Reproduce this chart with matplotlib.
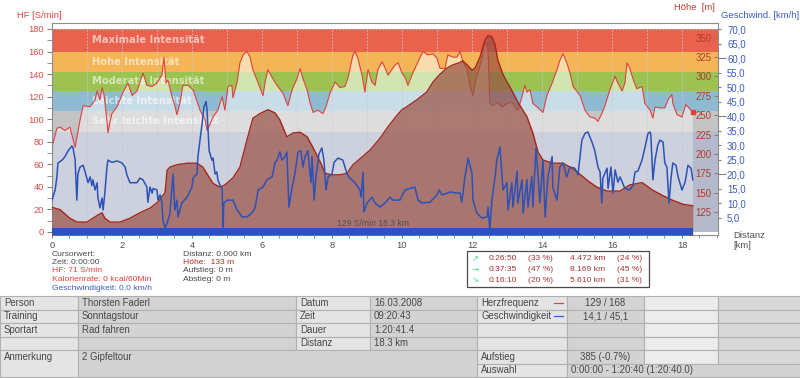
import numpy as np
import matplotlib
matplotlib.use('Agg')
import matplotlib.pyplot as plt
from matplotlib.patches import Rectangle, Polygon
from matplotlib.transforms import blended_transform_factory

plt.rcParams['font.family'] = ['Liberation Sans', 'DejaVu Sans']

# ---------------- data ----------------
hf_km = [0.0, 0.14, 0.23, 0.37, 0.51, 0.57, 0.66, 0.80, 0.89, 1.09,
         1.23, 1.29, 1.37, 1.43, 1.49, 1.57, 1.60, 1.71, 1.86, 2.03,
         2.17, 2.29, 2.43, 2.60, 2.71, 2.86, 3.00, 3.14, 3.20, 3.26,
         3.31, 3.43, 3.51, 3.57, 3.66, 3.74, 3.89, 4.03, 4.23, 4.37,
         4.43, 4.51, 4.60, 4.74, 4.86, 4.94, 5.03, 5.14, 5.17, 5.29,
         5.37, 5.46, 5.57, 5.66, 5.74, 5.89, 6.03, 6.09, 6.17, 6.29,
         6.43, 6.60, 6.74, 6.86, 7.00, 7.09, 7.17, 7.29, 7.37, 7.46,
         7.60, 7.74, 7.83, 7.94, 8.09, 8.23, 8.37, 8.46, 8.60, 8.66,
         8.74, 8.86, 8.94, 9.03, 9.14, 9.23, 9.31, 9.43, 9.51, 9.60,
         9.71, 9.80, 9.89, 10.00, 10.09, 10.17, 10.31, 10.46, 10.60, 10.74,
         10.89, 11.00, 11.09, 11.23, 11.31, 11.46, 11.57, 11.66, 11.74, 11.86,
         11.94, 12.03, 12.11, 12.20, 12.29, 12.34, 12.40, 12.46, 12.51, 12.60,
         12.74, 12.86, 13.00, 13.14, 13.23, 13.31, 13.43, 13.51, 13.57, 13.66,
         13.74, 13.89, 14.03, 14.14, 14.29, 14.43, 14.51, 14.60, 14.71, 14.80,
         14.89, 15.09, 15.23, 15.37, 15.51, 15.60, 15.71, 15.80, 15.94, 16.09,
         16.17, 16.29, 16.37, 16.43, 16.51, 16.60, 16.71, 16.86, 16.94, 17.09,
         17.17, 17.23, 17.37, 17.51, 17.60, 17.71, 17.74, 17.86, 18.00, 18.11,
         18.20, 18.31]
hf_bpm = [75, 92, 93, 90, 93, 86, 75, 99, 112, 111,
          117, 125, 117, 128, 121, 99, 88, 105, 111, 124,
          132, 121, 125, 141, 130, 129, 132, 139, 155, 132,
          135, 120, 112, 104, 115, 130, 130, 126, 108, 100,
          90, 95, 102, 108, 120, 108, 129, 130, 119, 133,
          150, 157, 160, 155, 144, 132, 121, 133, 144, 137,
          130, 123, 112, 126, 136, 145, 136, 126, 115, 106,
          108, 105, 111, 123, 133, 128, 129, 137, 157, 160,
          154, 139, 124, 144, 133, 130, 144, 151, 146, 139,
          144, 148, 150, 141, 137, 130, 141, 151, 160, 157,
          158, 154, 145, 145, 157, 155, 155, 160, 151, 144,
          130, 121, 135, 144, 155, 166, 168, 161, 114, 112,
          115, 111, 114, 115, 111, 108, 120, 130, 124, 126,
          114, 110, 106, 121, 132, 144, 152, 158, 150, 141,
          129, 121, 108, 102, 101, 98, 105, 112, 126, 138,
          132, 125, 132, 150, 145, 136, 127, 129, 114, 108,
          101, 111, 110, 110, 117, 122, 114, 104, 102, 113,
          110, 106]

alt_km = [0.0, 0.23, 0.51, 0.71, 1.00, 1.17, 1.31, 1.43, 1.51, 1.66,
          1.94, 2.23, 2.51, 2.80, 3.03, 3.23, 3.29, 3.37, 3.57, 3.86,
          4.14, 4.31, 4.46, 4.60, 4.80, 4.94, 5.17, 5.37, 5.57, 5.74,
          5.94, 6.17, 6.37, 6.51, 6.71, 6.89, 7.09, 7.29, 7.46, 7.66,
          7.80, 8.00, 8.23, 8.43, 8.60, 8.86, 9.09, 9.37, 9.60, 9.86,
          10.00, 10.14, 10.43, 10.71, 10.89, 11.09, 11.29, 11.46, 11.60, 11.74,
          11.86, 12.00, 12.09, 12.23, 12.37, 12.46, 12.57, 12.66, 12.74, 12.89,
          13.09, 13.31, 13.57, 13.74, 13.89, 14.03, 14.31, 14.60, 14.80, 15.00,
          15.29, 15.57, 15.86, 16.23, 16.51, 16.86, 17.17, 17.46, 17.74, 18.03,
          18.31]
alt_m = [131, 128, 117, 112, 112, 117, 121, 124, 117, 112,
         112, 117, 124, 130, 138, 150, 179, 183, 186, 188,
         188, 183, 172, 162, 157, 160, 169, 183, 218, 246,
         252, 257, 253, 244, 222, 227, 228, 222, 208, 190,
         175, 173, 173, 175, 186, 196, 205, 220, 235, 250,
         257, 261, 270, 280, 293, 303, 311, 315, 317, 320,
         315, 308, 311, 325, 347, 353, 351, 341, 321, 302,
         286, 267, 248, 227, 202, 192, 188, 188, 183, 177,
         166, 157, 152, 152, 160, 163, 153, 146, 140, 135,
         133]

spd_km = [0.0, 0.09, 0.14, 0.17, 0.29, 0.37, 0.46, 0.57, 0.60, 0.66,
          0.71, 0.74, 0.80, 0.89, 0.94, 1.03, 1.09, 1.14, 1.17, 1.23,
          1.29, 1.31, 1.37, 1.43, 1.46, 1.51, 1.57, 1.60, 1.71, 1.86,
          2.00, 2.09, 2.14, 2.23, 2.43, 2.51, 2.60, 2.71, 2.74, 2.80,
          2.86, 2.89, 3.00, 3.03, 3.09, 3.14, 3.17, 3.23, 3.29, 3.37,
          3.46, 3.51, 3.57, 3.60, 3.71, 3.86, 4.00, 4.03, 4.14, 4.17,
          4.29, 4.34, 4.40, 4.43, 4.49, 4.57, 4.60, 4.66, 4.71, 4.74,
          4.80, 4.86, 4.89, 4.91, 5.00, 5.17, 5.29, 5.43, 5.57, 5.71,
          5.80, 5.89, 6.03, 6.14, 6.29, 6.37, 6.43, 6.51, 6.57, 6.66,
          6.71, 6.77, 6.86, 6.94, 7.03, 7.11, 7.17, 7.23, 7.31, 7.40,
          7.43, 7.49, 7.54, 7.63, 7.71, 7.77, 7.83, 7.89, 8.00, 8.06,
          8.17, 8.31, 8.43, 8.51, 8.66, 8.80, 8.83, 8.89, 8.91, 9.00,
          9.14, 9.23, 9.37, 9.51, 9.66, 9.74, 9.94, 10.09, 10.23, 10.37,
          10.46, 10.57, 10.80, 11.00, 11.06, 11.14, 11.29, 11.37, 11.57, 11.66,
          11.71, 11.80, 11.89, 12.00, 12.03, 12.14, 12.29, 12.43, 12.46, 12.51,
          12.57, 12.66, 12.71, 12.80, 12.86, 12.89, 13.00, 13.03, 13.14, 13.17,
          13.29, 13.31, 13.43, 13.46, 13.57, 13.60, 13.71, 13.74, 13.83, 13.89,
          13.94, 14.03, 14.09, 14.17, 14.29, 14.31, 14.43, 14.51, 14.60, 14.71,
          14.80, 14.94, 15.03, 15.14, 15.23, 15.31, 15.43, 15.51, 15.60, 15.66,
          15.71, 15.74, 15.86, 15.89, 15.97, 16.03, 16.09, 16.17, 16.23, 16.37,
          16.51, 16.60, 16.66, 16.74, 16.86, 16.94, 17.03, 17.09, 17.11, 17.17,
          17.23, 17.31, 17.37, 17.46, 17.51, 17.57, 17.63, 17.69, 17.74, 17.83,
          17.89, 18.00, 18.09, 18.17, 18.26, 18.31]
spd_kmh = [11, 14.5, 19, 23.8, 24.8, 26, 28, 29.7, 29, 25,
           11, 20, 22.4, 23, 21, 17, 19, 16, 18, 14.5,
           17, 12, 8.3, 11.7, 7.6, 13.4, 22.4, 24.8, 24, 24.5,
           23.8, 22.4, 19.7, 17, 17, 18.6, 18, 15.5, 10.3, 15.5,
           13.4, 15, 14.5, 11, 12.8, 10, 4, 1.4, 3, 6.5,
           20, 7.6, 11, 5.2, 10, 12, 15.5, 18.6, 20, 26,
           37.6, 43, 45, 42, 28, 24.8, 25.5, 20, 20.7, 18,
           16.2, 15, 1.7, 10, 11, 11, 7.6, 5.2, 5.2, 6.5,
           8.3, 14.5, 15.5, 18, 19, 23.8, 24.8, 27.6, 24.8, 26,
           27.6, 8.6, 15.5, 20, 27.6, 28, 22.4, 26, 28, 17,
           26, 11, 19, 27, 29, 24.8, 14.5, 19, 20, 24,
           25.5, 24.8, 20, 18.6, 17, 14.5, 12, 20.7, 6.9, 10,
           12, 10, 8.6, 10, 12, 11, 11, 14.5, 15, 15.5,
           11, 10, 10.3, 12.8, 14.5, 12.8, 13.4, 13.8, 13.4, 13.4,
           10.3, 19, 25.5, 20.3, 11, 6.5, 4.8, 5.2, 8.6, 0.7,
           11, 19, 24.8, 29.3, 19, 14.5, 17, 7.6, 17, 8.6,
           21, 10, 18, 6.5, 18, 8.6, 19, 8.6, 29, 19,
           10, 24.8, 5.2, 19, 26, 15.5, 11, 22.4, 23.8, 19,
           22.4, 22, 19.7, 31.7, 34, 34.5, 31, 28, 22.4, 20.7,
           10, 18.6, 22, 15, 22.4, 13.4, 21.4, 17.2, 19, 15,
           14.5, 16, 20.7, 21, 24.8, 29, 34, 34.5, 33.5, 18,
           24.8, 30, 31.7, 31, 23.8, 22.4, 10, 19, 23.8, 23,
           19, 14.5, 17.2, 23, 22, 18]

zone_bounds = [0, 89, 107, 125, 142, 160, 180]
zone_names = ['', 'Sehr leichte Intensität', 'Leichte Intensität',
              'Moderate Intensität', 'Hohe Intensität', 'Maximale Intensität']
zone_dark = ['#b5b9cc', '#c4c4c4', '#8ebbd2', '#9cc352', '#f5b556', '#ea624e']
zone_light = ['#cdd0dd', '#dddddd', '#c9dde8', '#d2e4b0', '#f8dcab', '#f3aa9a']

hf_ticks = list(range(0, 181, 20))
alt_ticks = list(range(125, 351, 25))
spd_ticks = [5, 10, 15, 20, 25, 30, 35, 40, 45, 50, 55, 60, 65, 70]
x_ticks = list(range(0, 19, 2))

cursor_left = [("Cursorwert:", '#474747'), ("Zeit: 0:00:00", '#474747'),
               ("HF: 71 S/min", '#e8403c'), ("Kalorienrate: 0 kcal/60Min", '#e8403c'),
               ("Geschwindigkeit: 0,0 km/h", '#3a5ad0')]
cursor_right = [("Distanz: 0.000 km", '#474747'), ("Höhe:  133 m", '#b02a20'),
                ("Aufstieg: 0 m", '#474747'), ("Abstieg: 0 m", '#474747')]
slope_icons = ['\u2197', '\u2192', '\u2198']
slope_rows = [("0:26:50", "(33 %)", "4.472 km", "(24 %)"),
              ("0:37:35", "(47 %)", "8.169 km", "(45 %)"),
              ("0:16:10", "(20 %)", "5.610 km", "(31 %)")]

# ---------------- figure ----------------
W, H = 800, 378
fig = plt.figure(figsize=(W / 100, H / 100), dpi=100)
fig.patch.set_facecolor('white')

L, R, T, B = 52, 718, 23, 235
ax = fig.add_axes([L / W, 1 - B / H, (R - L) / W, (B - T) / H])
ax.set_xlim(0, 19.03)
ax.set_ylim(-2.66, 185.3)
ax.set_facecolor('white')

# HF zones: saturated above the HF curve, light below it
under = Polygon(np.column_stack([np.r_[hf_km[0], hf_km, hf_km[-1]],
                                 np.r_[-10, hf_bpm, -10]]),
                closed=True, transform=ax.transData, fc='none', ec='none')
for i in range(len(zone_dark)):
    lo, hi = zone_bounds[i], zone_bounds[i + 1]
    ax.axhspan(lo, hi, color=zone_dark[i], lw=0, zorder=0.5)
    r = ax.axhspan(lo, hi, color=zone_light[i], lw=0, zorder=0.6)
    r.set_clip_path(under)
    if zone_names[i]:
        ax.text(1.14, (lo + hi) / 2, zone_names[i], color='white', alpha=0.6,
                fontsize=7.2, fontweight='bold', family='DejaVu Sans',
                va='center', ha='left', zorder=1.5)

# grid
ax.vlines(np.arange(1, 19), -2.66, 180, colors='#c8c8c8', linestyles=(0, (2, 2)),
          lw=0.6, zorder=1)
ax.axhline(180, color='#bdbdbd', ls=(0, (2, 2)), lw=0.6, zorder=1)

ax.plot(hf_km, hf_bpm, color='#e2403c', lw=0.8, zorder=2)
ax.plot(hf_km[-1], hf_bpm[-1], 's', ms=2.5, color='#e2403c', zorder=2)

ax.set_yticks(hf_ticks)
ax.set_yticks(range(10, 181, 20), minor=True)
ax.set_xticks(x_ticks)
ax.set_xticks(np.arange(0, 19.01, 0.5), minor=True)
ax.tick_params(axis='y', which='both', direction='out', length=3.5, color='#808080',
               labelsize=6.7, labelcolor='#e04848', pad=2)
ax.tick_params(axis='x', which='both', direction='out', length=2.5, color='#808080',
               labelsize=6.7, labelcolor='#505050', pad=2)
for s in ax.spines.values():
    s.set_color('#8c8c8c')
    s.set_linewidth(0.8)

# altitude
ax_h = ax.twinx()
ax_h.set_ylim(95.3, 369)
ax_h.fill_between(alt_km, 0, alt_m, color=(0.60, 0.31, 0.26), alpha=0.7, lw=0, zorder=1)
ax_h.plot(alt_km, alt_m, color='#a3281a', lw=1.0, zorder=2)
ax_h.set_yticks(alt_ticks)
ax_h.set_yticklabels([str(v) for v in alt_ticks], ha='right')
ax_h.tick_params(axis='y', direction='in', length=3, color='#808080',
                 labelsize=6.9, labelcolor='#b03c28', pad=-4.5)
for s in ax_h.spines.values():
    s.set_visible(False)

# speed
ax_s = ax.twinx()
ax_s.set_ylim(-1.03, 72.07)
ax_s.plot(spd_km, spd_kmh, color='#2c52b8', lw=1.1, zorder=3)
ax_s.add_patch(Rectangle((hf_km[0], 0), hf_km[-1] - hf_km[0], 7 / 212,
                         transform=blended_transform_factory(ax_s.transData, ax_s.transAxes),
                         fc='#2a52c4', ec='none', zorder=4))
ax_s.set_yticks(spd_ticks)
ax_s.set_yticklabels([f"{v:.1f}".replace('.', ',') for v in spd_ticks])
ax_s.tick_params(axis='y', direction='out', length=2.5, color='#808080',
                 labelsize=6.9, labelcolor='#3a5cc0', pad=4)
for t, v in zip(ax_s.yaxis.get_major_ticks(), spd_ticks):
    if v in (20, 40, 60):
        t.tick2line.set_markersize(5.5)
for s in ax_s.spines.values():
    s.set_visible(False)

# ---------------- overlay (pixel coords) ----------------
ov = fig.add_axes([0, 0, 1, 1])
ov.set_xlim(0, W)
ov.set_ylim(H, 0)
ov.axis('off')

ov.text(17, 15, "HF [S/min]", color='#e04848', fontsize=6.8, va='center')
ov.text(674, 8, "Höhe  [m]", color='#b84030', fontsize=6.8, va='center')
ov.text(721, 15, "Geschwind. [km/h]", color='#3a5cc0', fontsize=6.8, va='center')
ov.text(733, 235, "Distanz", color='#505050', fontsize=6.8, va='center')
ov.text(733, 246, "[km]", color='#505050', fontsize=6.8, va='center')
ov.text(337, 223, "129 S/min 18.3 km", color='#505050', fontsize=6.2, va='center')

ys = [254, 262.5, 271, 279.5, 288]
for (s, c), y in zip(cursor_left, ys):
    ov.text(52, y, s, color=c, fontsize=6.1, va='center')
for (s, c), y in zip(cursor_right, ys):
    ov.text(183, y, s, color=c, fontsize=6.1, va='center')

ov.add_patch(Rectangle((467, 251), 182, 36, fc='white', ec='#4a4a4a', lw=0.9))
for icon, row, y in zip(slope_icons, slope_rows, [259, 269.5, 280]):
    ov.text(472, y, icon, color='#3ee08a', fontsize=6, family='DejaVu Sans', va='center')
    for s, x in zip(row, [489, 528, 570, 617]):
        ov.text(x, y, s, color='#a83232', fontsize=6.1, va='center')

# ---------------- table ----------------
cx = [0, 78, 296, 370, 477, 567, 644, 718, 800]
ry = [296, 309.5, 323, 336.5, 350, 363.5, 377]
LAB, VAL, C7, C8 = '#e4e4e4', '#d3d3d3', '#ececec', '#d8d8d8'
tc = '#474747'


def cell(c0, c1, r0, r1, fc, text='', align='left'):
    x0, x1, y0, y1 = cx[c0], cx[c1], ry[r0], ry[r1]
    ov.add_patch(Rectangle((x0, y0), x1 - x0, y1 - y0, fc=fc, ec='#b0b0b0', lw=0.8))
    if text:
        yc = (ry[r0] + ry[r0 + 1]) / 2
        if align == 'center':
            ov.text((x0 + x1) / 2, yc, text, color=tc, fontsize=6.9, va='center', ha='center')
        else:
            ov.text(x0 + 4, yc, text, color=tc, fontsize=6.9, va='center')


left_rows = [("Person", "Thorsten Faderl", "Datum", "16.03.2008"),
             ("Training", "Sonntagstour", "Zeit", "09:20:43"),
             ("Sportart", "Rad fahren", "Dauer", "1:20:41.4"),
             ("", "", "Distanz", "18.3 km")]
right_rows = [("Herzfrequenz", "129 / 168"), ("Geschwindigkeit", "14,1 / 45,1"), ("", ""), ("", "")]
for r, (a, b, c, d) in enumerate(left_rows):
    cell(0, 1, r, r + 1, LAB, a)
    cell(1, 2, r, r + 1, VAL, b)
    cell(2, 3, r, r + 1, LAB, c)
    cell(3, 4, r, r + 1, VAL, d)
    e, f = right_rows[r]
    cell(4, 5, r, r + 1, LAB, e)
    cell(5, 6, r, r + 1, VAL, f, 'center')
    cell(6, 7, r, r + 1, C7)
    cell(7, 8, r, r + 1, C8)
cell(0, 1, 4, 6, LAB, "Anmerkung")
cell(1, 4, 4, 6, VAL, "2 Gipfeltour")
cell(4, 5, 4, 5, LAB, "Aufstieg")
cell(5, 6, 4, 5, VAL, "385 (-0.7%)", 'center')
cell(6, 7, 4, 5, C7)
cell(7, 8, 4, 5, C8)
cell(4, 5, 5, 6, LAB, "Auswahl")
cell(5, 8, 5, 6, VAL, "0:00:00 - 1:20:40 (1:20:40.0)")

# legend dashes in table
for (c, y) in [('#e04848', (ry[0] + ry[1]) / 2), ('#3a5cc0', (ry[1] + ry[2]) / 2)]:
    ov.plot([554, 563], [y, y], color=c, lw=0.9)

fig.savefig('out.png', dpi=100, facecolor='white')
